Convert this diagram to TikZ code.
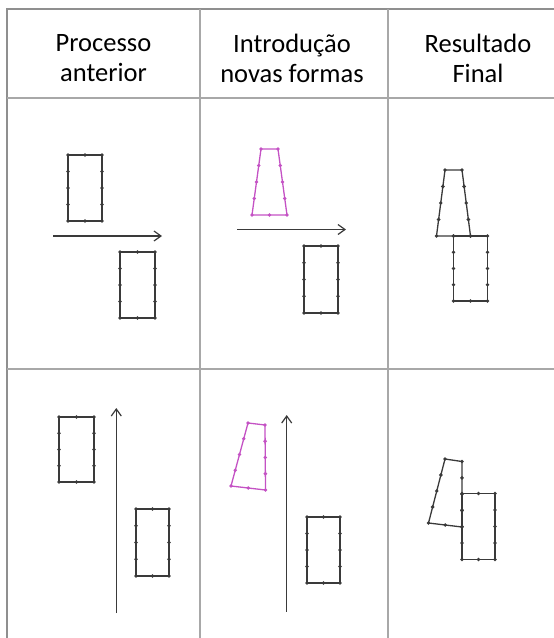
\documentclass[tikz,border=0pt]{standalone}
\usepackage{fontspec}
\setmainfont{Carlito}
\usetikzlibrary{arrows.meta,calc}
\definecolor{magc}{HTML}{C452C4}
\definecolor{shpc}{HTML}{3A3A3A}
\definecolor{gridc}{HTML}{A8A8A8}
\newcommand\dotr{1.9pt}
\newcommand\qshape[5]{%
  \draw[line width=1.3pt,#1] (#2)--(#3)--(#4)--(#5)--cycle;
  \fill[#1] (#2) circle (\dotr) (#3) circle (\dotr) (#4) circle (\dotr) (#5) circle (\dotr)
    ($(#5)!0.5!(#4)$) circle (\dotr)
    ($(#2)!0.25!(#5)$) circle (\dotr) ($(#2)!0.5!(#5)$) circle (\dotr) ($(#2)!0.75!(#5)$) circle (\dotr)
    ($(#3)!0.25!(#4)$) circle (\dotr) ($(#3)!0.5!(#4)$) circle (\dotr) ($(#3)!0.75!(#4)$) circle (\dotr);}
\newcommand\rshape[5]{\qshape{#1}{#2}{#3}{#4}{#5}\fill[#1] ($(#2)!0.5!(#3)$) circle (\dotr);}
\begin{document}
\begin{tikzpicture}[x=1pt,y=-1pt,
  gridline/.style={draw=gridc,line width=1.3pt},
  motion/.style={draw=shpc,line width=1.2pt,-{Straight Barb[length=7pt,width=10pt]}},
  head/.style={align=center,font=\fontsize{26.5}{30}\selectfont,inner sep=0pt}]
\useasboundingbox (0,0) rectangle (554,638);
% table grid
\draw[gridline,draw=gridc!85!black,line width=1.6pt] (7,638) -- (7,9) -- (554,9);
\draw[gridline] (7,98) -- (554,98);
\draw[gridline] (7,369) -- (554,369);
\draw[gridline] (200,9) -- (200,638);
\draw[gridline] (388,9) -- (388,638);
% headers
\node[head] (h1) at (103.5,58) {Processo\\anterior};
\node[head] (h2) at (292,58) {Introdução\\novas formas};
\node[head] (h3) at (478,58) {Resultado\\Final};
% row 1
\rshape{shpc}{68,155}{102,155}{102,221}{68,221}
\rshape{shpc}{120,252}{155,252}{155,318}{120,318}
\coordinate (a1s) at (53,236); \coordinate (a1e) at (162,236);
\draw[motion] (a1s) -- (a1e);
\qshape{magc}{261,149}{278,149}{287,215}{252,215}
\rshape{shpc}{304,246}{338,246}{338,313}{304,313}
\coordinate (a2s) at (237,229.5); \coordinate (a2e) at (346,229.5);
\draw[motion] (a2s) -- (a2e);
\qshape{shpc}{445,170}{462,170}{470.5,236}{436.5,236}
\rshape{shpc}{453.5,236}{487.5,236}{487.5,301}{453.5,301}
% row 2
\rshape{shpc}{59,417}{94,417}{94,482}{59,482}
\rshape{shpc}{136,509}{169,509}{169,576}{136,576}
\coordinate (a3s) at (116.3,613); \coordinate (a3e) at (116.3,408);
\draw[motion] (a3s) -- (a3e);
\qshape{magc}{248,423}{265,425}{265.5,490}{231,486}
\rshape{shpc}{307,517}{340,517}{340,583}{307,583}
\coordinate (a4s) at (286.7,611.7); \coordinate (a4e) at (286.7,415);
\draw[motion] (a4s) -- (a4e);
\qshape{shpc}{445,459}{462,461.5}{462,527}{428.5,523}
\rshape{shpc}{462,493.5}{495,493.5}{495,559.5}{462,559.5}
\end{tikzpicture}
\end{document}
